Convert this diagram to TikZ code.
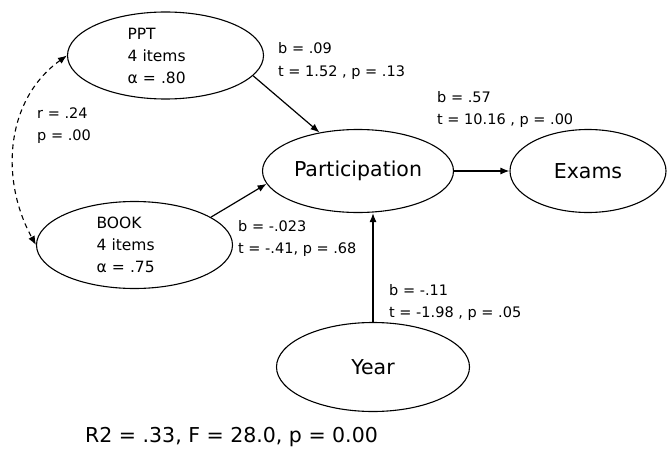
\documentclass[tikz,border=0pt]{standalone}
\usepackage{fontspec}
\setmainfont{DejaVu Sans}
\usetikzlibrary{shapes.geometric,arrows.meta,positioning}

\begin{document}
\begin{tikzpicture}[x=1pt,y=-1pt,
	factor/.style={ellipse,draw,line width=1.1pt,minimum width=196pt,minimum height=87pt,inner sep=0pt,text width=76pt,align=left,font=\fontsize{15.5}{22}\selectfont},
	latent/.style={ellipse,draw,line width=1.1pt,minimum width=191pt,minimum height=83pt,font=\fontsize{20.5}{24}\selectfont},
	coef/.style={anchor=west,align=left,inner sep=0pt,font=\fontsize{14.5}{22}\selectfont},
	link/.style={line width=1.2pt,-{Latex[length=9pt,width=7pt]}}]
	\useasboundingbox (0,0) rectangle (669,460);
	% constructs
	\node (ppt)[factor] at (165.5,55.5){PPT\\4 items\\α = .80};
	\node (book)[factor] at (134.5,245){BOOK\\4 items\\α = .75};
	\node (part)[latent] at (358,171){Participation};
	\node (exams)[latent,minimum width=156pt] at (588,171){Exams};
	\node (year)[latent,minimum width=193pt,minimum height=89pt] at (373,367){Year};
	% paths
	\draw[link] (ppt.-13) -- (part.135);
	\draw[link] (book.20) -- (part.188);
	\draw[link] (part.east) -- (exams.west);
	\draw[link] (year.north) -- (year.north |- part.south);
	\draw[line width=1.1pt,dash pattern=on 5pt off 4pt,{Latex[length=9pt,width=7pt]}-{Latex[length=9pt,width=7pt]}]
		(ppt.west) .. controls (5,100) and (0,180) .. (book.west);
	% coefficients
	\node (cppt)[coef] at (278,61){b = .09\\t = 1.52 , p = .13};
	\node (corr)[coef] at (37,126){r = .24\\p = .00};
	\node (cexams)[coef] at (437,109){b = .57\\t = 10.16 , p = .00};
	\node (cbook)[coef] at (238,238){b = -.023\\t = -.41, p = .68};
	\node (cyear)[coef] at (389,302){b = -.11\\t = -1.98 , p = .05};
	\node (fit)[anchor=west,inner sep=0pt,font=\fontsize{20.5}{24}\selectfont] at (85,437){R2 = .33, F = 28.0, p = 0.00};
\end{tikzpicture}
\end{document}
